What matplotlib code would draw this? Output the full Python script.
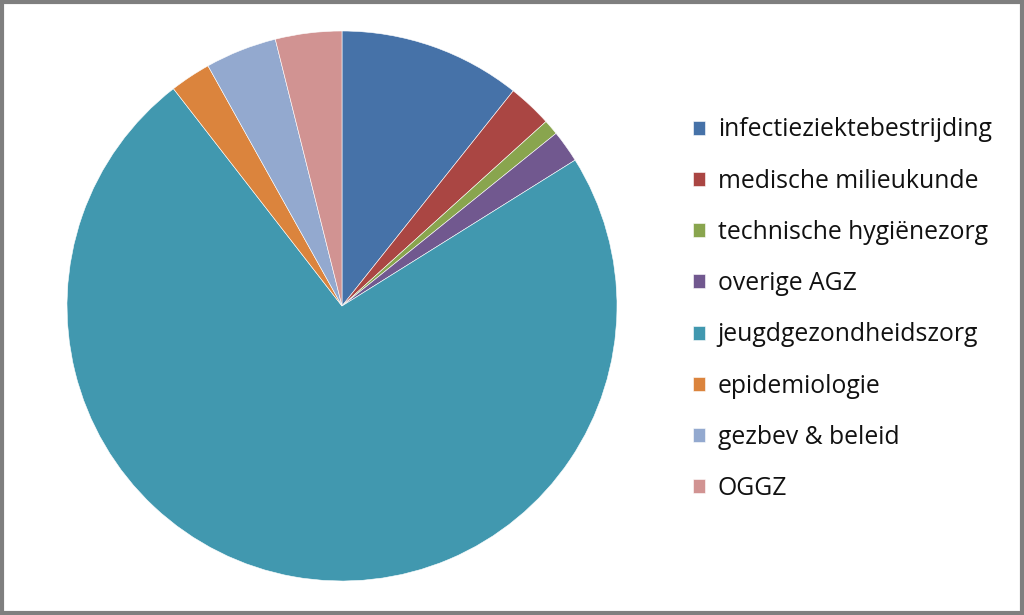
import matplotlib
matplotlib.use("Agg")
import matplotlib.pyplot as plt
from matplotlib.patches import Rectangle

labels = ["infectieziektebestrijding", "medische milieukunde", "technische hygiënezorg",
          "overige AGZ", "jeugdgezondheidszorg", "epidemiologie", "gezbev & beleid", "OGGZ"]
values = [10.7, 2.6, 0.9, 1.9, 73.4, 2.4, 4.2, 3.9]
colors = ["#4672A8", "#AA4643", "#89A54E", "#71588F", "#4198AF", "#DB843D", "#93A9CF", "#D19392"]

plt.rcParams["font.family"] = ["Open Sans", "DejaVu Sans"]

fig = plt.figure(figsize=(10.24, 6.15), dpi=100)
fig.patch.set_facecolor("white")

# pie: centre (342,306) px, radius 275 px
ax = fig.add_axes([(342 - 275) / 1024, (615 - 581) / 615, 550 / 1024, 550 / 615])
wedges, _ = ax.pie(values, colors=colors, startangle=90, counterclock=False,
                   wedgeprops=dict(edgecolor="white", linewidth=0.4))
ax.set_xlim(-1, 1); ax.set_ylim(-1, 1)
ax.axis("off")

leg = fig.legend(wedges, labels, loc="upper left", bbox_to_anchor=(693 / 1024, 1 - 117.5 / 615),
                 frameon=False, fontsize=17.8, handlelength=0.5, handleheight=0.5,
                 handletextpad=0.5, labelspacing=1.06, borderaxespad=0, borderpad=0)
for t in leg.get_texts():
    t.set_color("#111111")

# grey frame round the whole chart
fig.patches.append(Rectangle((0.0015, 0.0025), 0.997, 0.995, transform=fig.transFigure,
                             fill=False, edgecolor="#7f7f7f", linewidth=3))

fig.savefig("out.png", dpi=100)
